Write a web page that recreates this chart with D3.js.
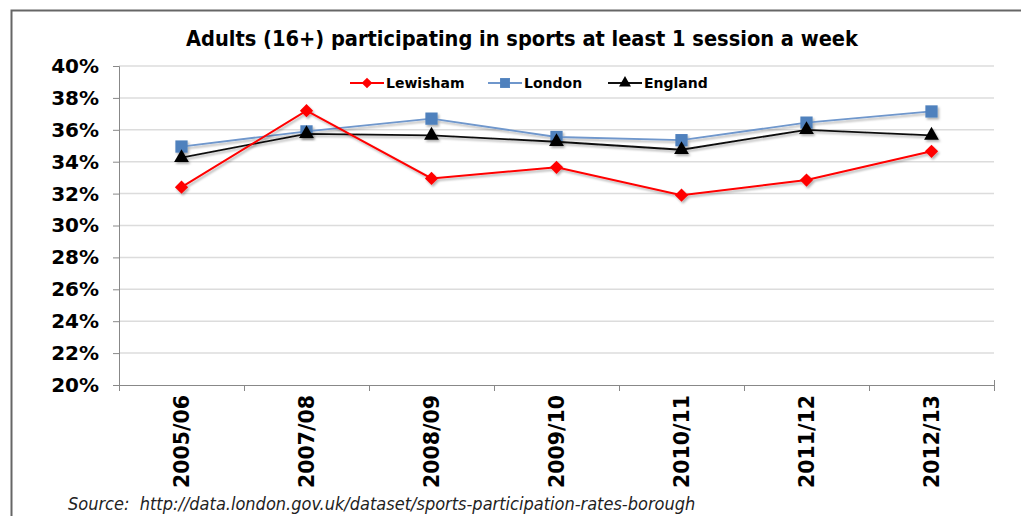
<!DOCTYPE html>
<html><head><meta charset="utf-8">
<script src="https://cdn.jsdelivr.net/npm/d3@7"></script>
<style>body{margin:0;background:#fff}svg{display:block}</style>
</head><body>
<svg id="chart" width="1021" height="516"></svg>
<script>
const categories = ["2005/06","2007/08","2008/09","2009/10","2010/11","2011/12","2012/13"];
const lewisham = [32.4, 37.2, 32.95, 33.65, 31.9, 32.85, 34.65];
const london   = [34.95, 35.9, 36.7, 35.55, 35.35, 36.45, 37.15];
const england  = [34.25, 35.75, 35.65, 35.25, 34.75, 36.0, 35.65];
const yTicks = [20,22,24,26,28,30,32,34,36,38,40];
const title = "Adults (16+) participating in sports at least 1 session a week";
const source = "Source:  http://data.london.gov.uk/dataset/sports-participation-rates-borough";

const svg = d3.select("#chart");
const defs = svg.append("defs");
const f = defs.append("filter").attr("id","sh").attr("x","-20%").attr("y","-20%").attr("width","140%").attr("height","140%");
f.append("feDropShadow").attr("dx",1.5).attr("dy",2).attr("stdDeviation",1.3).attr("flood-color","#000").attr("flood-opacity",0.3);

// frame
svg.append("path").attr("d","M11.5,516 V10.5 H1021").attr("fill","none").attr("stroke","#666").attr("stroke-width",2);

const x = d3.scaleBand().domain(categories).range([119,994]);
const y = d3.scaleLinear().domain([20,40]).range([385,66]);

// gridlines
svg.append("g").selectAll("line").data(yTicks.slice(1)).join("line")
  .attr("x1",119).attr("x2",994).attr("y1",d=>y(d)).attr("y2",d=>y(d))
  .attr("stroke","#dcdcdc").attr("stroke-width",1.5);

// y axis
const ya = svg.append("g").attr("transform","translate(119,0)")
  .call(d3.axisLeft(y).tickValues(yTicks).tickFormat(d=>d+"%").tickSize(6).tickPadding(14));
ya.select(".domain").attr("stroke","#888");
ya.selectAll(".tick line").attr("stroke","#888");
ya.selectAll("text").attr("font-family","DejaVu Sans").attr("font-weight","bold").attr("font-size",20).attr("fill","#000");

// x axis
const xa = svg.append("g").attr("transform","translate(0,385)")
  .call(d3.axisBottom(x).tickSize(0).tickPadding(0));
xa.select(".domain").attr("stroke","#888").attr("d","M119,0.5H994.5V-5");
xa.selectAll(".tick line").remove();
svg.append("g").selectAll("line").data(categories.map((c,i)=>i===0?119:x(c)).concat([994])).join("line")
  .attr("x1",d=>d+0.5).attr("x2",d=>d+0.5).attr("y1",385).attr("y2",391).attr("stroke","#888");
xa.selectAll("text")
  .attr("font-family","DejaVu Sans").attr("font-weight","bold").attr("font-size",20.5).attr("fill","#000")
  .attr("transform","translate(7,10) rotate(-90)").attr("text-anchor","end").attr("dy","0").attr("y",0).attr("x",0);

// title
svg.append("text").attr("x",522).attr("y",46).attr("text-anchor","middle")
  .attr("font-family","DejaVu Sans Condensed, DejaVu Sans").attr("font-weight","bold").attr("font-size",21.6)
  .text(title);

// source
svg.append("text").attr("x",68).attr("y",510).style("white-space","pre")
  .attr("font-family","DejaVu Sans Condensed, DejaVu Sans").attr("font-style","italic").attr("font-size",18)
  .attr("fill","#222").text(source);

const series = [
  {name:"Lewisham", vals:lewisham, color:"#ff0000", shape:d3.symbolSquare, size:88, rot:45},
  {name:"London", vals:london, color:"#4f81bd", lineColor:"#6f97cc", shape:d3.symbolSquare, size:150, rot:0},
  {name:"England", vals:england, color:"#000", lineColor:"#111", shape:d3.symbolTriangle, size:95, rot:0}
];
const line = d3.line().x((d,i)=>x(categories[i])+x.bandwidth()/2).y(d=>y(d));
const drawOrder = [series[1], series[2], series[0]];
drawOrder.forEach(s=>{
  const g = svg.append("g").attr("filter","url(#sh)");
  g.append("path").datum(s.vals).attr("d",line).attr("fill","none")
    .attr("stroke",s.lineColor||s.color).attr("stroke-width",s.name==="Lewisham"?2:1.8);
  g.selectAll("path.m").data(s.vals).join("path").attr("class","m")
    .attr("transform",(d,i)=>`translate(${x(categories[i])+x.bandwidth()/2},${y(d)}) rotate(${s.rot})`)
    .attr("d",d3.symbol().type(s.shape).size(s.size)).attr("fill",s.color);
});

// legend
const legX = [350, 488, 608];
series.forEach((s,i)=>{
  const g = svg.append("g").attr("transform",`translate(${legX[i]},83)`);
  g.append("line").attr("x1",0).attr("x2",34).attr("stroke",s.lineColor||s.color).attr("stroke-width",2);
  g.append("path").attr("transform",`translate(17,0) rotate(${s.rot})`).attr("d",d3.symbol().type(s.shape).size(s.size*0.65)).attr("fill",s.color);
  g.append("text").attr("x",36).attr("y",5).attr("font-family","DejaVu Sans").attr("font-weight","bold").attr("font-size",14).text(s.name);
});
</script>
</body></html>
